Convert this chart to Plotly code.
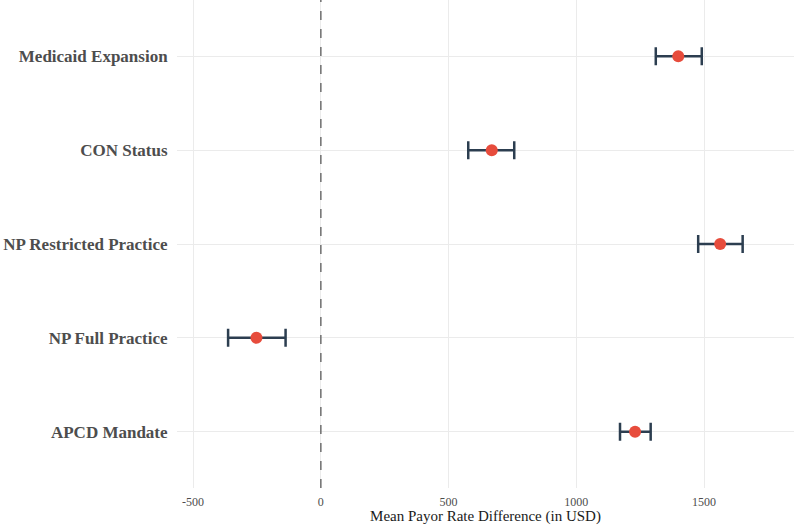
import plotly.graph_objects as go

categories = ["APCD Mandate", "NP Full Practice", "NP Restricted Practice", "CON Status", "Medicaid Expansion"]
estimates = [1230, -252, 1563, 669, 1399]
ci_low = [1171, -363, 1477, 577, 1311]
ci_high = [1291, -138, 1651, 757, 1491]
x_ticks = [-500, 0, 500, 1000, 1500]

err_plus = [h - e for h, e in zip(ci_high, estimates)]
err_minus = [e - l for e, l in zip(estimates, ci_low)]

SERIF = "Times New Roman, Liberation Serif, DejaVu Serif, serif"

fig = go.Figure()
fig.add_vline(x=0, line=dict(color="#6e6e6e", width=1.5, dash="dash"), layer="above")
fig.add_trace(go.Scatter(
    x=estimates, y=categories, mode="markers",
    marker=dict(color="#e74c3c", size=12),
    error_x=dict(type="data", symmetric=False, array=err_plus, arrayminus=err_minus,
                 color="#2c3e50", thickness=2.5, width=9),
    showlegend=False,
))

fig.update_layout(
    width=795, height=525,
    margin=dict(l=177, r=1, t=0, b=37),
    plot_bgcolor="white", paper_bgcolor="white",
    font=dict(family=SERIF, color="#4d4d4d"),
    xaxis=dict(range=[-563, 1852], tickvals=x_ticks, ticktext=[str(t) for t in x_ticks],
               showgrid=True, gridcolor="#ebebeb", gridwidth=1, zeroline=False,
               tickfont=dict(size=12, color="#4d4d4d", family=SERIF),
               title=dict(text="Mean Payor Rate Difference (in USD)", standoff=5,
                          font=dict(size=15, color="#1a1a1a", family=SERIF)),
               ticks="outside", ticklen=3, tickcolor="rgba(0,0,0,0)", showline=False),
    yaxis=dict(categoryorder="array", categoryarray=categories, range=[-0.6, 4.6],
               showgrid=True, gridcolor="#ebebeb", gridwidth=1, zeroline=False,
               tickfont=dict(size=17, color="#4d4d4d", family=SERIF, weight="bold"),
               ticks="outside", ticklen=5, tickcolor="rgba(0,0,0,0)", showline=False),
)

fig.write_html("out.html")
